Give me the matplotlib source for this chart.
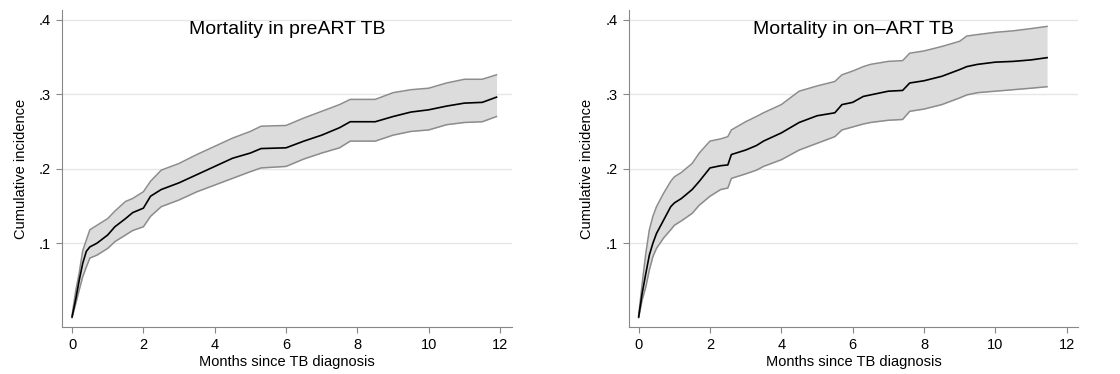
import numpy as np
import matplotlib
matplotlib.use("Agg")
import matplotlib.pyplot as plt

plt.rcParams["font.family"] = ["Liberation Sans", "DejaVu Sans"]

# --- data (months, cumulative incidence) ---
pre_t = [0, 0.1, 0.2, 0.3, 0.4, 0.5, 0.7, 1.0, 1.2, 1.5, 1.7, 2.0, 2.2, 2.5, 3.0, 3.5,
         4.0, 4.5, 5.0, 5.3, 6.0, 6.5, 7.0, 7.5, 7.8, 8.5, 9.0, 9.5, 10.0, 10.5, 11.0,
         11.5, 11.9]
pre_est = [0.001, 0.024, 0.050, 0.073, 0.089, 0.095, 0.100, 0.111, 0.122, 0.133, 0.141,
           0.147, 0.163, 0.172, 0.181, 0.192, 0.203, 0.214, 0.221, 0.227, 0.228, 0.237,
           0.245, 0.255, 0.263, 0.263, 0.270, 0.276, 0.279, 0.284, 0.288, 0.289, 0.296]
pre_hi = [0.003, 0.035, 0.060, 0.090, 0.104, 0.118, 0.124, 0.133, 0.143, 0.156, 0.160,
          0.169, 0.183, 0.198, 0.207, 0.219, 0.230, 0.241, 0.250, 0.257, 0.258, 0.268,
          0.277, 0.286, 0.293, 0.293, 0.302, 0.306, 0.308, 0.315, 0.320, 0.320, 0.326]
pre_lo = [0.000, 0.018, 0.037, 0.055, 0.068, 0.080, 0.084, 0.093, 0.102, 0.111, 0.117,
          0.122, 0.136, 0.149, 0.158, 0.169, 0.178, 0.187, 0.196, 0.201, 0.203, 0.213,
          0.221, 0.228, 0.237, 0.237, 0.245, 0.250, 0.252, 0.259, 0.262, 0.263, 0.270]

on_t = [0, 0.1, 0.2, 0.3, 0.4, 0.5, 0.7, 0.9, 1.0, 1.2, 1.5, 1.7, 2.0, 2.3, 2.5, 2.6,
        3.0, 3.3, 3.5, 4.0, 4.5, 5.0, 5.5, 5.7, 6.0, 6.3, 6.5, 7.0, 7.4, 7.6, 8.0, 8.5,
        9.0, 9.2, 9.5, 10.0, 10.5, 11.0, 11.45]
on_est = [0.001, 0.033, 0.059, 0.084, 0.100, 0.113, 0.131, 0.149, 0.154, 0.160, 0.172,
          0.183, 0.201, 0.204, 0.205, 0.219, 0.225, 0.231, 0.237, 0.248, 0.262, 0.271,
          0.275, 0.286, 0.289, 0.297, 0.299, 0.304, 0.305, 0.315, 0.318, 0.324, 0.333,
          0.337, 0.340, 0.343, 0.344, 0.346, 0.349]
on_hi = [0.003, 0.046, 0.086, 0.118, 0.136, 0.149, 0.167, 0.183, 0.189, 0.195, 0.207,
         0.221, 0.237, 0.240, 0.243, 0.252, 0.263, 0.270, 0.275, 0.286, 0.304, 0.311,
         0.317, 0.326, 0.331, 0.337, 0.340, 0.344, 0.345, 0.355, 0.358, 0.364, 0.371,
         0.378, 0.380, 0.383, 0.385, 0.388, 0.391]
on_lo = [0.000, 0.024, 0.041, 0.064, 0.082, 0.093, 0.107, 0.118, 0.124, 0.130, 0.140,
         0.151, 0.163, 0.172, 0.174, 0.187, 0.193, 0.198, 0.203, 0.212, 0.225, 0.234,
         0.243, 0.252, 0.256, 0.260, 0.262, 0.265, 0.266, 0.277, 0.280, 0.286, 0.295,
         0.299, 0.302, 0.304, 0.306, 0.308, 0.310]

x_ticks = [0, 2, 4, 6, 8, 10, 12]
y_ticks = [0.1, 0.2, 0.3, 0.4]
y_labels = [".1", ".2", ".3", ".4"]

panels = [
    ("Mortality in preART TB", pre_t, pre_est, pre_lo, pre_hi),
    ("Mortality in on\u2013ART TB", on_t, on_est, on_lo, on_hi),
]

fig = plt.figure(figsize=(11.2, 3.74), dpi=100)
positions = [[0.0554, 0.1257, 0.4016, 0.8476], [0.5613, 0.1257, 0.4016, 0.8476]]

for pos, (title, t, est, lo, hi) in zip(positions, panels):
    ax = fig.add_axes(pos)
    ax.fill_between(t, lo, hi, color="#dcdcdc", linewidth=0)
    ax.plot(t, hi, color="#8c8c8c", linewidth=1.1)
    ax.plot(t, lo, color="#8c8c8c", linewidth=1.1)
    ax.plot(t, est, color="black", linewidth=1.2)

    ax.set_xlim(-0.28, 12.33)
    ax.set_ylim(-0.0125, 0.413)
    ax.set_xticks(x_ticks)
    ax.set_yticks(y_ticks)
    ax.set_yticklabels(y_labels)
    ax.yaxis.grid(True, color="#e6e6e6", linewidth=1.0)
    ax.set_axisbelow(True)
    for side in ("top", "right"):
        ax.spines[side].set_visible(False)
    for side in ("left", "bottom"):
        ax.spines[side].set_color("#888888")
    ax.tick_params(colors="#888888", labelcolor="black", labelsize=10.5, length=4.5)
    ax.set_xlabel("Months since TB diagnosis", fontsize=10.5, labelpad=2)
    ax.set_ylabel("Cumulative incidence", fontsize=10.5, labelpad=8)
    ax.text(0.5, 0.94, title, transform=ax.transAxes, ha="center", va="center",
            fontsize=14)

fig.savefig("out.png", dpi=100)
